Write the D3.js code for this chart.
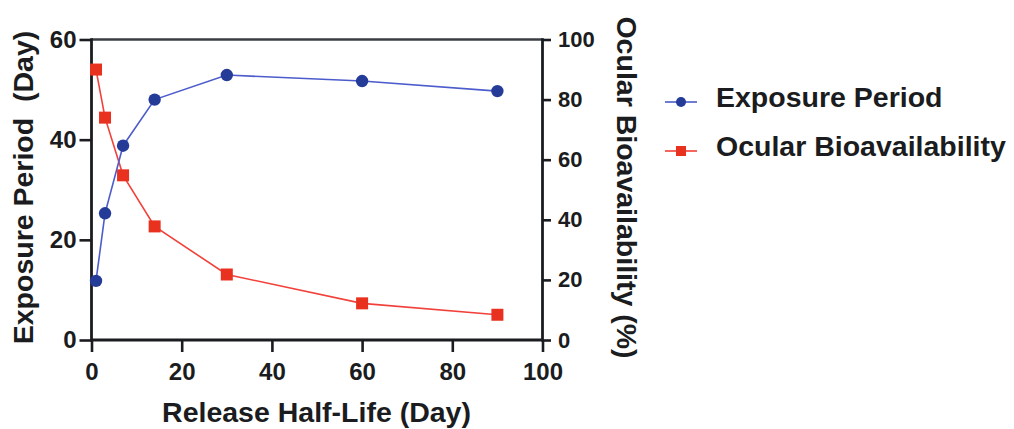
<!DOCTYPE html>
<html>
<head>
<meta charset="utf-8">
<script src="https://cdn.jsdelivr.net/npm/d3@7"></script>
<style>
  html, body { margin: 0; padding: 0; background: #fff; }
  svg { display: block; }
  text { font-family: "Liberation Sans", Arial, sans-serif; font-weight: bold; fill: #1a1c20; }
</style>
</head>
<body>
<svg id="chart" width="1014" height="429"></svg>
<script>
// Release half-life (days) for each simulated formulation
const halfLife = [1, 3, 7, 14, 30, 60, 90];
// Exposure period (days), left axis
const exposurePeriod = [11.8, 25.3, 38.8, 48.0, 52.9, 51.7, 49.7];
// Ocular bioavailability (%), right axis
const bioavailability = [90.0, 74.0, 54.8, 37.8, 21.8, 12.2, 8.4];

const xTicks = [0, 20, 40, 60, 80, 100];
const leftTicks = [0, 20, 40, 60];
const rightTicks = [0, 20, 40, 60, 80, 100];

const seriesNames = ["Exposure Period", "Ocular Bioavailability"];

const blueMark = "#243b98", blueLine = "#4c5ccc";
const redMark = "#e8321f", redLine = "#f2413a";
const axisColor = "#1a1c20";

const svg = d3.select("#chart");
const plot = { left: 91.5, right: 542.5, top: 39.5, bottom: 340 };

const x = d3.scaleLinear().domain([0, 100]).range([plot.left, plot.right]);
const yL = d3.scaleLinear().domain([0, 60]).range([plot.bottom, plot.top]);
const yR = d3.scaleLinear().domain([0, 100]).range([plot.bottom, plot.top]);

// top frame line
svg.append("line")
  .attr("x1", plot.left).attr("x2", plot.right)
  .attr("y1", plot.top).attr("y2", plot.top)
  .attr("stroke", "#3a3e44").attr("stroke-width", 2.5);

function styleAxis(g, size) {
  g.select(".domain").remove();
  g.selectAll(".tick line").attr("stroke", axisColor).attr("stroke-width", 2.6);
  g.selectAll(".tick text").style("font-size", size + "px").attr("fill", axisColor);
}

// x axis
const gx = svg.append("g").attr("transform", `translate(0,${plot.bottom})`)
  .call(d3.axisBottom(x).tickValues(xTicks).tickSize(12).tickPadding(11).tickSizeOuter(0));
styleAxis(gx, 24);

// left axis
const gl = svg.append("g").attr("transform", `translate(${plot.left},0)`)
  .call(d3.axisLeft(yL).tickValues(leftTicks).tickSize(12).tickPadding(3).tickSizeOuter(0));
styleAxis(gl, 24);

// right axis
const gr = svg.append("g").attr("transform", `translate(${plot.right},0)`)
  .call(d3.axisRight(yR).tickValues(rightTicks).tickSize(8.5).tickPadding(7).tickSizeOuter(0));
styleAxis(gr, 22);

// axis lines
svg.append("line").attr("x1", plot.left).attr("x2", plot.right)
  .attr("y1", plot.bottom).attr("y2", plot.bottom)
  .attr("stroke", axisColor).attr("stroke-width", 2.8);
svg.append("line").attr("x1", plot.left).attr("x2", plot.left)
  .attr("y1", plot.top - 1.2).attr("y2", plot.bottom + 1.4)
  .attr("stroke", axisColor).attr("stroke-width", 2.8);
svg.append("line").attr("x1", plot.right).attr("x2", plot.right)
  .attr("y1", plot.top - 1.2).attr("y2", plot.bottom + 1.4)
  .attr("stroke", axisColor).attr("stroke-width", 2.8);

// series data
const blueData = halfLife.map((h, i) => ({ x: h, y: exposurePeriod[i] }));
const redData = halfLife.map((h, i) => ({ x: h, y: bioavailability[i] }));

svg.append("path").datum(redData)
  .attr("fill", "none").attr("stroke", redLine).attr("stroke-width", 1.6)
  .attr("d", d3.line().x(d => x(d.x)).y(d => yR(d.y)));
svg.append("path").datum(blueData)
  .attr("fill", "none").attr("stroke", blueLine).attr("stroke-width", 1.6)
  .attr("d", d3.line().x(d => x(d.x)).y(d => yL(d.y)));

const sq = 12;
svg.append("g").selectAll("rect").data(redData).join("rect")
  .attr("x", d => x(d.x) - sq / 2).attr("y", d => yR(d.y) - sq / 2)
  .attr("width", sq).attr("height", sq).attr("fill", redMark);
svg.append("g").selectAll("circle").data(blueData).join("circle")
  .attr("cx", d => x(d.x)).attr("cy", d => yL(d.y)).attr("r", 6.2)
  .attr("fill", blueMark);

// axis titles
svg.append("text")
  .attr("transform", `translate(32.5,187.5) rotate(-90)`)
  .attr("text-anchor", "middle").style("font-size", "28.5px")
  .text("Exposure Period\u00a0 (Day)");
svg.append("text")
  .attr("transform", `translate(617,187.5) rotate(90)`)
  .attr("text-anchor", "middle").style("font-size", "28.5px")
  .text("Ocular Bioavailability (%)");
svg.append("text")
  .attr("x", 316.5).attr("y", 421.5)
  .attr("text-anchor", "middle").style("font-size", "28.5px")
  .text("Release Half-Life (Day)");

// legend
const legend = svg.append("g");
const rows = [
  { name: seriesNames[0], y: 102, line: blueLine, mark: blueMark, shape: "circle" },
  { name: seriesNames[1], y: 151, line: redLine, mark: redMark, shape: "square" }
];
rows.forEach(r => {
  legend.append("line").attr("x1", 665).attr("x2", 697)
    .attr("y1", r.y).attr("y2", r.y).attr("stroke", r.line).attr("stroke-width", 1.6);
  if (r.shape === "circle") {
    legend.append("circle").attr("cx", 681).attr("cy", r.y).attr("r", 5).attr("fill", r.mark);
  } else {
    legend.append("rect").attr("x", 676).attr("y", r.y - 5).attr("width", 10).attr("height", 10).attr("fill", r.mark);
  }
  legend.append("text").attr("x", 716).attr("y", r.y + 4.5)
    .style("font-size", "28.5px").text(r.name);
});
</script>
</body>
</html>
